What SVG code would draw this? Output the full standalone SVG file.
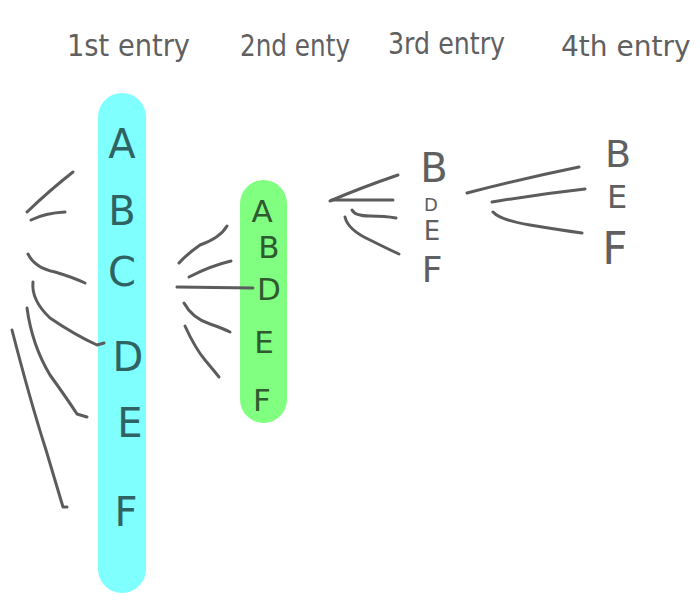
<svg xmlns="http://www.w3.org/2000/svg" width="700" height="594" viewBox="0 0 700 594">
<style>
.t{font-family:"DejaVu Sans","Liberation Sans",sans-serif;fill:#606060}
.h{font-size:31px}
.c{font-family:"DejaVu Sans","Liberation Sans",sans-serif;text-anchor:middle}
.cy{fill:#2f6363;font-size:40px}
.gr{fill:#2f5a2f;font-size:31px}
.g{font-family:"DejaVu Sans","Liberation Sans",sans-serif;text-anchor:middle;fill:#606060}
.ln{fill:none;stroke:#5c5c5c;stroke-width:3;stroke-linecap:round;stroke-linejoin:round}
</style>
<rect width="700" height="594" fill="#ffffff"/>
<g id="headers">
<text class="t h" x="67" y="56" textLength="123" lengthAdjust="spacingAndGlyphs">1st entry</text>
<text class="t h" x="240" y="56" textLength="110" lengthAdjust="spacingAndGlyphs">2nd enty</text>
<text class="t h" x="388" y="54" textLength="117" lengthAdjust="spacingAndGlyphs">3rd entry</text>
<text class="t" x="561" y="56" style="font-size:28px">4th entry</text>
</g>
<g id="col1">
<rect x="98" y="93" width="48" height="500" rx="24" fill="#80ffff"/>
<text class="c cy" x="122" y="158">A</text>
<text class="c cy" x="122" y="225">B</text>
<text class="c cy" x="122" y="286">C</text>
<text class="c cy" x="128" y="371">D</text>
<text class="c cy" x="130" y="437">E</text>
<text class="c cy" x="126" y="526">F</text>
</g>
<g id="col2">
<rect x="240" y="180" width="47" height="243" rx="23.5" fill="#80ff80"/>
<text class="c gr" x="262" y="222">A</text>
<text class="c gr" x="269" y="258">B</text>
<text class="c gr" x="269" y="300">D</text>
<text class="c gr" x="264" y="353">E</text>
<text class="c gr" x="262" y="411">F</text>
</g>
<g id="col3">
<text class="g" x="434" y="182" style="font-size:40px">B</text>
<text class="g" x="431" y="211" style="font-size:18px">D</text>
<text class="g" x="432" y="240" style="font-size:26px">E</text>
<text class="g" x="432" y="282" style="font-size:36px">F</text>
</g>
<g id="col4">
<text class="g" x="618" y="167" style="font-size:38px">B</text>
<text class="g" x="617" y="208" style="font-size:32px">E</text>
<text class="g" x="615" y="264" style="font-size:44px">F</text>
</g>
<g id="connectors">
<path class="ln" d="M73,172 Q50,190 27,212"/>
<path class="ln" d="M65,212 Q45,213 31,220"/>
<path class="ln" d="M28,254 Q35,268 55,272 Q72,277 85,283"/>
<path class="ln" d="M33,282 Q31,300 50,318 Q75,335 97,345 L104,343"/>
<path class="ln" d="M27,308 Q32,345 50,375 Q68,400 77,414 L87,417"/>
<path class="ln" d="M12,330 Q30,400 46,450 Q58,490 63,507 L67,507"/>
<path class="ln" d="M227,226 Q220,238 200,245 Q186,255 179,263"/>
<path class="ln" d="M231,261 Q210,266 189,277"/>
<path class="ln" d="M177,287 L253,288"/>
<path class="ln" d="M184,303 Q192,318 210,324 Q222,328 230,332"/>
<path class="ln" d="M185,326 Q195,348 205,360 Q215,372 219,377"/>
<path class="ln" d="M398,175 Q360,188 330,201"/>
<path class="ln" d="M332,200 L393,200"/>
<path class="ln" d="M352,210 Q355,216 370,216 Q385,216 396,218"/>
<path class="ln" d="M345,217 Q348,230 370,240 Q390,250 399,254"/>
<path class="ln" d="M467,193 Q525,178 579,167"/>
<path class="ln" d="M492,202 Q540,194 585,189"/>
<path class="ln" d="M493,212 Q500,220 530,225 Q560,230 582,233"/>
</g>
</svg>
